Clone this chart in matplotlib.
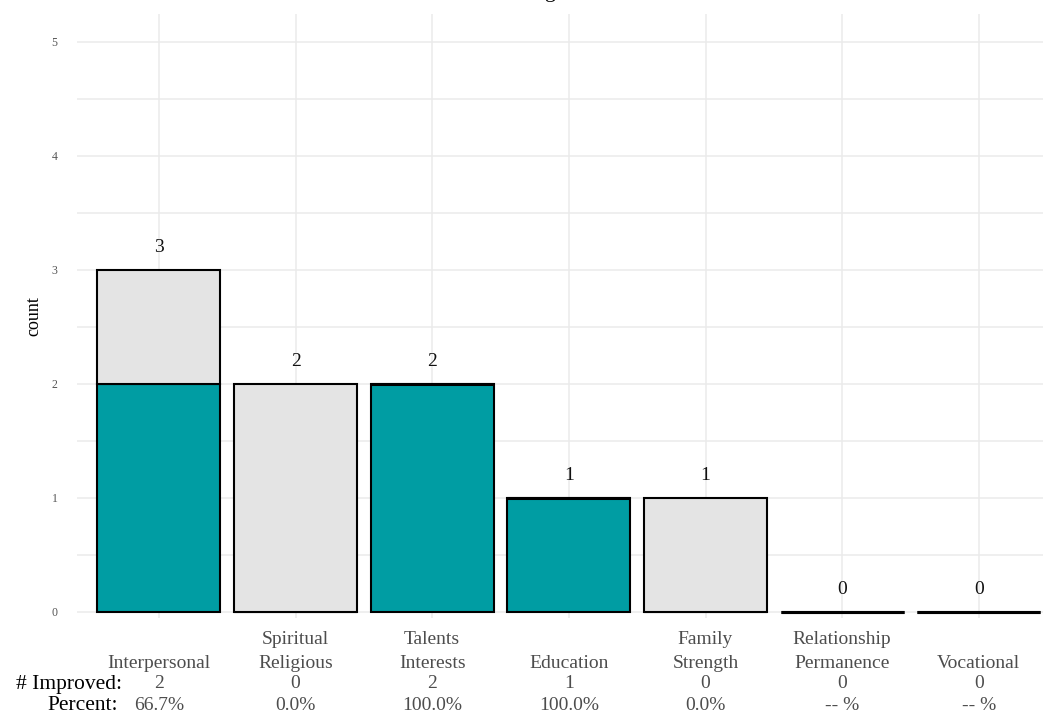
import matplotlib
matplotlib.use("Agg")
import matplotlib.pyplot as plt
import matplotlib.transforms as mtransforms
import numpy as np

categories = ["Interpersonal", "Spiritual\nReligious", "Talents\nInterests", "Education",
              "Family\nStrength", "Relationship\nPermanence", "Vocational"]
improved = [2, 0, 2, 1, 0, 0, 0]
not_improved = [1, 2, 0, 0, 1, 0, 0]
percent_labels = ["66.7%", "0.0%", "100.0%", "100.0%", "0.0%", "-- %", "-- %"]
yticks = [0, 1, 2, 3, 4, 5]

TEAL = "#009DA3"
GRAY = "#E4E4E4"
SERIF = ["Liberation Serif", "DejaVu Serif"]

fig = plt.figure(figsize=(10.5, 7.21), dpi=100)
W, H = 1050, 721
ax = fig.add_axes([77 / W, (721 - 617.7) / H, (1043 - 77) / W, (617.7 - 13.5) / H])

x = np.arange(len(categories))
totals = [a + b for a, b in zip(improved, not_improved)]

lw_imp = [1.5 if (v > 0 or t > 0) else 2.2 for v, t in zip(improved, totals)]
lw_not = [1.5 if (v > 0 or t > 0 and v == t) else 2.2 for v, t in zip(not_improved, totals)]
ax.bar(x, improved, width=0.9, color=TEAL, edgecolor="black", linewidth=lw_imp, zorder=3)
ax.bar(x, not_improved, bottom=improved, width=0.9, color=GRAY, edgecolor="black",
       linewidth=lw_not, zorder=3)

for xi, t in zip(x, totals):
    ax.text(xi, t + 0.2, str(t), ha="center", va="center", fontsize=14,
            family=SERIF, color="#111111", zorder=4)

ax.set_xlim(-0.6, 6.47)
ax.set_ylim(-0.05, 5.25)
ax.set_yticks(yticks)
ax.set_yticks(np.arange(0.5, 5.5, 1.0), minor=True)
ax.set_yticklabels([str(v) for v in yticks], fontsize=8.5, color="#555555", family=SERIF)
ax.set_xticks(x)
ax.set_xticklabels([])
ax.tick_params(axis="both", which="both", length=0)
ax.tick_params(axis="y", pad=14)
ax.grid(True, which="both", color="#EBEBEB", linewidth=1.1, zorder=0)
ax.set_axisbelow(True)
for s in ax.spines.values():
    s.set_visible(False)
ax.set_ylabel("count", fontsize=13, family=SERIF)
ax.yaxis.set_label_coords((42 - 77) / (1043 - 77), 0.5)

trans = mtransforms.blended_transform_factory(ax.transData, fig.transFigure)
for xi, lab in zip(x, categories):
    lines = lab.split("\n")
    ys = [663, 640]
    for i, line in enumerate(reversed(lines)):
        ax.text(xi, 1 - ys[i] / H, line, transform=trans, ha="center", va="center",
                fontsize=14, family=SERIF, color="#4d4d4d")
for xi, n, p in zip(x, improved, percent_labels):
    ax.text(xi, 1 - 684 / H, str(n), transform=trans, ha="center", va="center",
            fontsize=14, family=SERIF, color="#4d4d4d")
    ax.text(xi, 1 - 705 / H, p, transform=trans, ha="center", va="center",
            fontsize=14, family=SERIF, color="#4d4d4d")

fig.text(122 / W, 1 - 684 / H, "# Improved:", ha="right", va="center", fontsize=15.5,
         family=SERIF, color="black")
fig.text(118 / W, 1 - 705 / H, "Percent:", ha="right", va="center", fontsize=15.5,
         family=SERIF, color="black")

fig.text(0.515, 1 + 2.5 / H, "Strengths", ha="center", va="baseline", fontsize=16,
         family=SERIF, color="black")

fig.savefig("out.png", dpi=100)
